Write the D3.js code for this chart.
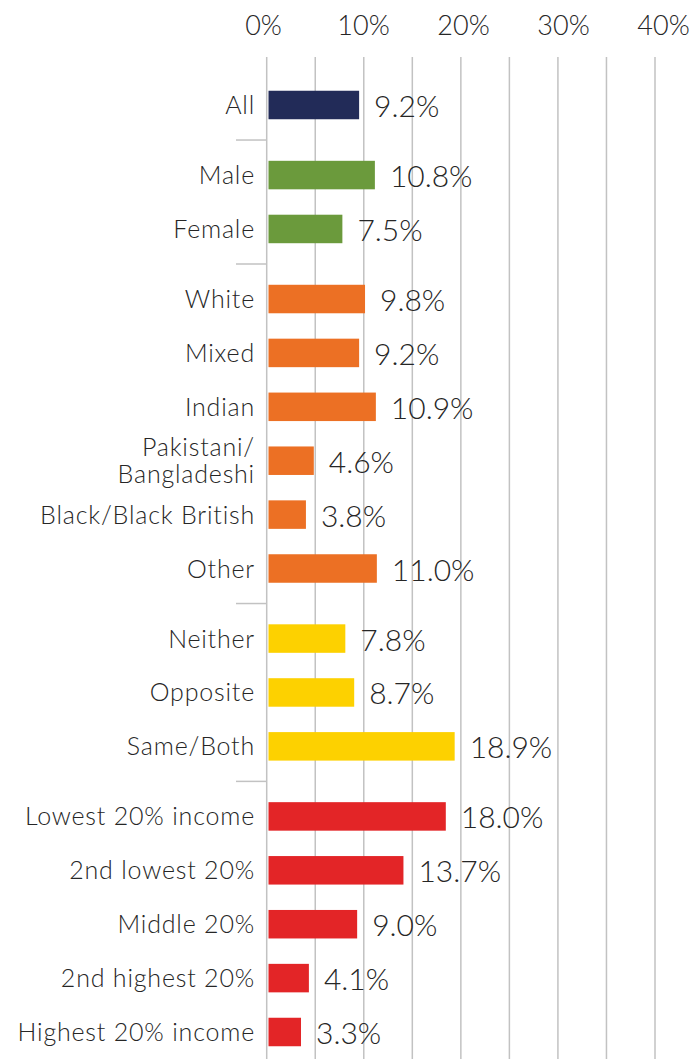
<!DOCTYPE html>
<html><head><meta charset="utf-8">
<script src="https://cdn.jsdelivr.net/npm/d3@7"></script>
<style>
html,body{margin:0;padding:0;background:#fff;}
svg text{font-family:Lato,"Open Sans",sans-serif;font-weight:300;fill:#262626;}
</style></head>
<body><svg id="c" width="697" height="1059"></svg>
<script>
const categories = ["All","Male","Female","White","Mixed","Indian","Pakistani/\nBangladeshi","Black/Black British","Other","Neither","Opposite","Same/Both","Lowest 20% income","2nd lowest 20%","Middle 20%","2nd highest 20%","Highest 20% income"];
const values = [9.2,10.8,7.5,9.8,9.2,10.9,4.6,3.8,11.0,7.8,8.7,18.9,18.0,13.7,9.0,4.1,3.3];
const groups = [0,1,1,2,2,2,2,2,2,3,3,3,4,4,4,4,4];
const groupColors = ["#222b58","#6b9a3c","#ec7024","#fdd100","#e32527"];
const tickValues = [0,10,20,30,40];
const gridValues = [0,5,10,15,20,25,30,35,40];

const svg = d3.select("#c");
const W = 697, H = 1059;
const x = d3.scaleLinear().domain([0,40]).range([266.7,655]);
const xBar = d3.scaleLinear().domain([0,40]).range([268.5,662.5]);
const xLab = d3.scaleLinear().domain([0,40]).range([263,663]);
const gap = 0.3;
const units = categories.map((c,i)=> i + groups[i]*gap);
const y = d3.scaleLinear().domain([0, d3.max(units)]).range([105,1032]);

// gridlines
svg.append("g").selectAll("line").data(gridValues).join("line")
  .attr("x1",d=>x(d)).attr("x2",d=>x(d)).attr("y1",57).attr("y2",H)
  .attr("stroke","#c2c2c2").attr("stroke-width",1.5);

// top tick labels
const axis = d3.axisTop(xLab).tickValues(tickValues).tickFormat(d=>d+"%").tickSize(0).tickPadding(0);
const ag = svg.append("g").attr("transform","translate(0,35)").call(axis);
ag.select(".domain").remove();
ag.selectAll("text").attr("font-size",27).attr("font-family",null).attr("fill",null);

// separators
for(let i=1;i<categories.length;i++){
  if(groups[i]!==groups[i-1]){
    const yy=(y(units[i])+y(units[i-1]))/2;
    svg.append("line").attr("x1",236).attr("x2",x(0)).attr("y1",yy).attr("y2",yy)
      .attr("stroke","#c2c2c2").attr("stroke-width",1.5);
  }
}

// bars
const bh = 28.5;
svg.append("g").selectAll("rect").data(values).join("rect")
  .attr("x",xBar(0)).attr("y",(d,i)=>y(units[i])-bh/2)
  .attr("width",d=>xBar(d)-xBar(0)).attr("height",bh)
  .attr("fill",(d,i)=>groupColors[groups[i]]);

// value labels
svg.append("g").selectAll("text").data(values).join("text")
  .attr("x",d=>xBar(d)+15).attr("y",(d,i)=>y(units[i])+12)
  .attr("font-size",30).text(d=>d.toFixed(1)+"%");

// category labels
const cl = svg.append("g").selectAll("text").data(categories).join("text")
  .attr("text-anchor","end").attr("font-size",25).attr("letter-spacing",0.8)
  .attr("x",255);
cl.each(function(d,i){
  const lines=d.split("\n");
  const t=d3.select(this);
  const cy=y(units[i]);
  const lh=27;
  const start = cy + 9 - (lines.length-1)*lh/2;
  lines.forEach((l,k)=>t.append("tspan").attr("x",255).attr("y",start+k*lh).text(l));
});
</script></body></html>
